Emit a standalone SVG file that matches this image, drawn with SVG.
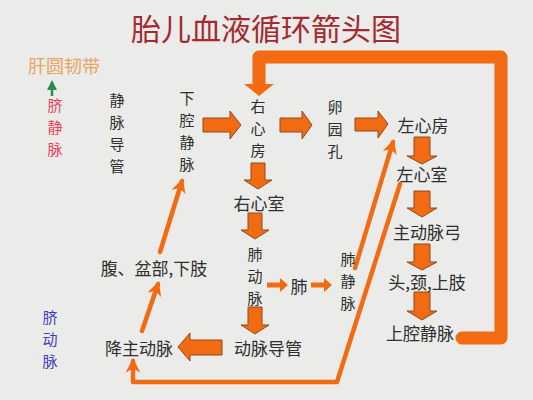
<svg xmlns="http://www.w3.org/2000/svg" width="533" height="400" viewBox="0 0 533 400">
<defs>
<style>
.t{font-family:"Noto Sans CJK SC","Liberation Serif",serif;font-size:17px;fill:#2e2e2e;text-anchor:middle;dominant-baseline:central}
.vs{font-size:15px}
.blk{fill:#f26a12;stroke:#8c4a1e;stroke-width:1;stroke-linejoin:miter}
.thin{fill:none;stroke:#f26a12;stroke-width:4.5;stroke-linecap:round;stroke-linejoin:round}
.thick{fill:none;stroke:#f26a12;stroke-width:13;stroke-linecap:round;stroke-linejoin:round}
</style>
<marker id="ah" viewBox="0 0 10 10" refX="8" refY="5" markerWidth="3.2" markerHeight="3.2" orient="auto" markerUnits="strokeWidth">
<path d="M0,0 L10,5 L0,10 L3,5 Z" fill="#f26a12"/>
</marker>
<marker id="gh" viewBox="0 0 10 10" refX="8" refY="5" markerWidth="4" markerHeight="4" orient="auto" markerUnits="strokeWidth">
<path d="M0,0 L10,5 L0,10 Z" fill="#2e8a50"/>
</marker>
</defs>
<rect width="533" height="400" fill="#ebebe9"/>
<text x="266" y="27" style="font-family:'Noto Sans CJK SC','Liberation Serif',serif;font-size:30px;fill:#a32a30;text-anchor:middle;dominant-baseline:central">胎儿血液循环箭头图</text>

<g id="connectors">
<path class="thick" d="M462,338 L501,338 L501,57 L259,57 L259,84"/>
<path d="M244,84 L274,84 L259,96 Z" fill="#f26a12"/>
<path class="blk" d="M203,118 L230,118 L230,111 L241,125 L230,139 L230,132 L203,132 Z"/>
<path class="blk" d="M280,118 L302,118 L302,111 L312,125 L302,139 L302,132 L280,132 Z"/>
<path class="blk" d="M355,118 L378,118 L378,111 L388,124 L378,138 L378,131 L355,131 Z"/>
<path class="blk" d="M251,163 L265,163 L265,180 L272,180 L258,189 L244,180 L251,180 Z"/>
<path class="blk" d="M248,213 L262,213 L262,230 L269,230 L255,239 L241,230 L248,230 Z"/>
<path class="blk" d="M248,307 L262,307 L262,325 L269,325 L255,334 L241,325 L248,325 Z"/>
<path class="blk" d="M414,137 L430,137 L430,156 L437,156 L422,164 L407,156 L414,156 Z"/>
<path class="blk" d="M414,191 L430,191 L430,208 L437,208 L422,217 L407,208 L414,208 Z"/>
<path class="blk" d="M414,244 L430,244 L430,262 L437,262 L422,270 L407,262 L414,262 Z"/>
<path class="blk" d="M414,292 L430,292 L430,311 L437,311 L422,320 L407,311 L414,311 Z"/>
<path class="blk" d="M222,340 L190,340 L190,333 L178,347 L190,361 L190,355 L222,355 Z"/>
<path d="M267,282.5 L280,282.5 L280,278 L288,285 L280,292 L280,287.5 L267,287.5 Z" fill="#f26a12"/>
<path d="M311,282.5 L324,282.5 L324,278 L332,285 L324,292 L324,287.5 L311,287.5 Z" fill="#f26a12"/>
<path class="thin" d="M355,268 L393,142" marker-end="url(#ah)"/>
<path class="thin" d="M400,184 L337,382 L133,382 L133,361" marker-end="url(#ah)"/>
<path class="thin" d="M142,331 L158,284" marker-end="url(#ah)"/>
<path class="thin" d="M160,252 L182,181" marker-end="url(#ah)"/>
<path d="M52,96 L52,82" stroke="#2e8a50" stroke-width="2.5" fill="none" marker-end="url(#gh)"/>
</g>

<g id="n-gan"><text class="t" x="64" y="65" style="fill:#e8a565;font-size:18px">肝圆韧带</text></g>
<g id="n-qijingmai"><text class="t vs" x="55" y="104" style="fill:#e8405c"><tspan x="55" dy="0">脐</tspan><tspan x="55" dy="22">静</tspan><tspan x="55" dy="22">脉</tspan></text></g>
<g id="n-jingmaidaoguan"><text class="t vs" x="117" y="99"><tspan x="117" dy="0">静</tspan><tspan x="117" dy="22">脉</tspan><tspan x="117" dy="22">导</tspan><tspan x="117" dy="22">管</tspan></text></g>
<g id="n-xiaqiang"><text class="t vs" x="187" y="97"><tspan x="187" dy="0">下</tspan><tspan x="187" dy="22">腔</tspan><tspan x="187" dy="22">静</tspan><tspan x="187" dy="22">脉</tspan></text></g>
<g id="n-youxinfang"><text class="t vs" x="258" y="105"><tspan x="258" dy="0">右</tspan><tspan x="258" dy="22">心</tspan><tspan x="258" dy="22">房</tspan></text></g>
<g id="n-luanyuankong"><text class="t vs" x="335" y="106"><tspan x="335" dy="0">卵</tspan><tspan x="335" dy="22">园</tspan><tspan x="335" dy="22">孔</tspan></text></g>
<g id="n-zuoxinfang"><text class="t" x="423" y="124">左心房</text></g>
<g id="n-youxinshi"><text class="t" x="259" y="202">右心室</text></g>
<g id="n-zuoxinshi"><text class="t" x="422" y="173">左心室</text></g>
<g id="n-zhudongmaigong"><text class="t" x="427" y="231">主动脉弓</text></g>
<g id="n-toujing"><text class="t" x="427" y="281">头,颈,上肢</text></g>
<g id="n-shangqiang"><text class="t" x="420" y="332">上腔静脉</text></g>
<g id="n-feidongmai"><text class="t vs" x="255" y="253"><tspan x="255" dy="0">肺</tspan><tspan x="255" dy="22">动</tspan><tspan x="255" dy="22">脉</tspan></text></g>
<g id="n-fei"><text class="t" x="299" y="285">肺</text></g>
<g id="n-feijingmai"><text class="t vs" x="348" y="258"><tspan x="348" dy="0">肺</tspan><tspan x="348" dy="22">静</tspan><tspan x="348" dy="22">脉</tspan></text></g>
<g id="n-dongmaidaoguan"><text class="t" x="268" y="347">动脉导管</text></g>
<g id="n-jiangzhu"><text class="t" x="139" y="347">降主动脉</text></g>
<g id="n-fupen"><text class="t" x="154" y="267">腹、盆部,下肢</text></g>
<g id="n-qidongmai"><text class="t vs" x="50" y="316" style="fill:#4040b8"><tspan x="50" dy="0">脐</tspan><tspan x="50" dy="22">动</tspan><tspan x="50" dy="22">脉</tspan></text></g>
</svg>
